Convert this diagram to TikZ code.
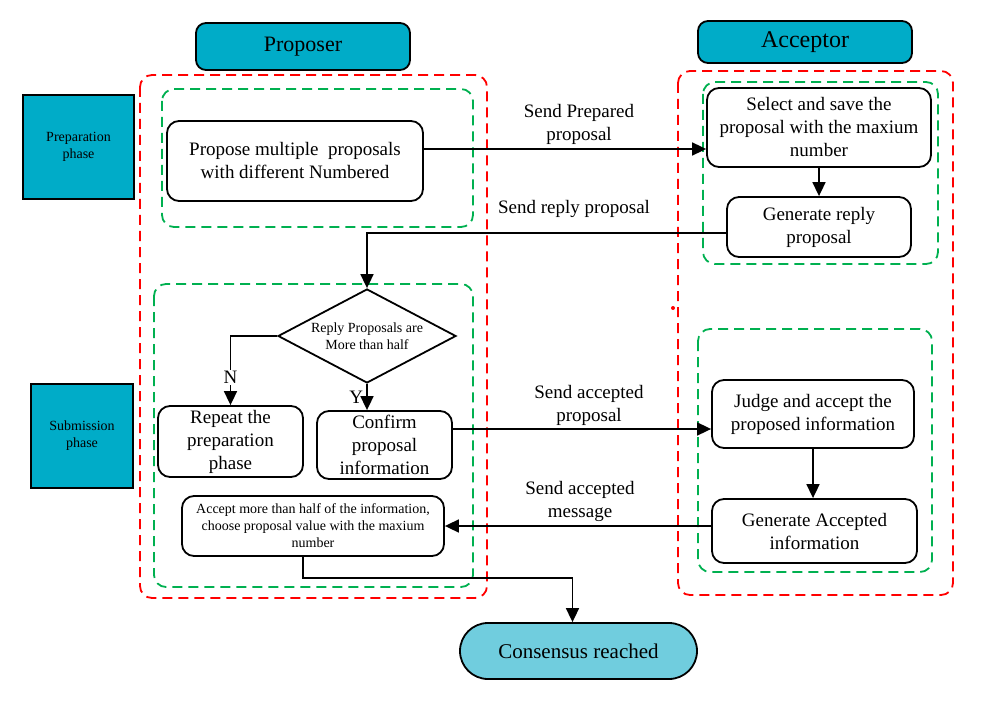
\documentclass[tikz,border=0pt]{standalone}
\usepackage{fontspec}
\setmainfont{Liberation Serif}
\usetikzlibrary{arrows.meta,shapes.geometric}

\definecolor{headcyan}{RGB}{0,172,200}
\definecolor{endcyan}{RGB}{112,205,222}
\definecolor{framered}{RGB}{255,0,0}
\definecolor{framegreen}{RGB}{0,176,80}

\newcommand{\fs}[2]{\fontsize{#1}{#2}\selectfont}

\tikzset{
  box/.style={draw, line width=1.8pt, rounded corners=12pt, align=center,
    inner sep=0pt, font=\fs{19}{23}},
  header/.style={box, fill=headcyan, rounded corners=10pt},
  phasebox/.style={draw, line width=1.8pt, fill=headcyan, align=center,
    inner sep=0pt, font=\fs{14}{17}},
  redframe/.style={draw=framered, line width=1.8pt, dash pattern=on 10pt off 6pt,
    rounded corners=12pt},
  greenframe/.style={draw=framegreen, line width=1.8pt, dash pattern=on 10pt off 6pt,
    rounded corners=12pt},
  conn/.style={line width=1.7pt, -{Triangle[length=14pt,width=13pt]}},
  lbl/.style={align=center, inner sep=1pt, font=\fs{19}{23}},
}

\begin{document}
\begin{tikzpicture}[x=1pt,y=-1pt]
  \useasboundingbox (0,0) rectangle (992,703);

  % dashed group frames
  \draw[redframe]   (140,75)  rectangle (487,598);
  \draw[greenframe] (162,89)  rectangle (473,227);
  \draw[greenframe] (154,284) rectangle (473,587);
  \draw[redframe]   (678,71)  rectangle (953,595);
  \draw[greenframe] (703,82)  rectangle (938,264);
  \draw[greenframe] (698,329) rectangle (932,572);
  \fill[framered] (673,308) circle (2);

  % role headers
  \node[header, minimum width=214, minimum height=47, font=\fs{22}{26}]
    (proposer) at (303,46.5) {Proposer};
  \node[header, minimum width=214, minimum height=42, font=\fs{24}{28}]
    (acceptor) at (805,42) {Acceptor};

  % phase markers
  \node[phasebox, minimum width=111, minimum height=104]
    (prep) at (78.5,147) {Preparation\\phase};
  \node[phasebox, minimum width=102, minimum height=104]
    (subm) at (82,436) {Submission\\phase};

  % proposer side
  \node[box, minimum width=256, minimum height=80]
    (propose) at (295,161) {Propose multiple\ \ proposals\\with different Numbered};
  \node[draw, diamond, line width=1.8pt, shape aspect=1.9, inner sep=0pt,
        minimum width=178, minimum height=94, align=center, font=\fs{14}{17}]
    (dec) at (367,336) {Reply Proposals are\\More than half};
  \node[box, minimum width=145, minimum height=71]
    (repeat) at (230.5,441.5) {Repeat the\\preparation\\phase};
  \node[box, minimum width=135, minimum height=68]
    (confirm) at (384.5,445) {Confirm\\proposal\\information};
  \node[box, minimum width=262, minimum height=60, font=\fs{14}{17}]
    (accept) at (313,526) {Accept more than half of the information,\\choose\ proposal value with the maxium\\number};

  % acceptor side
  \node[box, minimum width=224, minimum height=79]
    (select) at (819,127.5) {Select and save the\\proposal with the maxium\\number};
  \node[box, minimum width=184, minimum height=60]
    (genreply) at (819,227) {Generate reply\\proposal};
  \node[box, minimum width=202, minimum height=68]
    (judge) at (813,414) {Judge and accept the\\proposed information};
  \node[box, minimum width=205, minimum height=64]
    (genacc) at (814.5,531) {Generate Accepted\\information};

  % final state
  \node[draw, line width=1.8pt, fill=endcyan, rounded corners=28pt, inner sep=0pt,
        minimum width=237, minimum height=56, font=\fs{21}{25}]
    (consensus) at (578.5,651) {Consensus reached};

  % connectors
  \draw[conn] (propose.east |- 0,149) -- (select.west |- 0,149);
  \node[lbl] (lprep) at (579,124) {Send Prepared\\proposal};

  \draw[conn] (select.south) -- (genreply.north);

  \draw[conn] (genreply.west |- 0,233) -| (dec.north);
  \node[lbl] (lreply) at (574,209) {Send reply proposal};

  \draw[conn] (dec.west) -| node[pos=0.8, fill=white, inner sep=1pt, font=\fs{19}{23}] (nlbl) {N} (repeat.north);
  \draw[conn] (dec.south) -- node[left, inner sep=3pt, pos=0.5, font=\fs{19}{23}] (ylbl) {Y} (dec.south |- confirm.north);

  \draw[conn] (confirm.east |- 0,429) -- (judge.west |- 0,429);
  \node[lbl] (lacc) at (589,405) {Send accepted\\proposal};

  \draw[conn] (judge.south) -- (judge.south |- genacc.north);

  \draw[conn] (genacc.west |- accept.east) -- (accept.east);
  \node[lbl] (lmsg) at (580,501) {Send accepted\\message};

  \draw[conn] ([xshift=-10pt]accept.south) -- ++(0,21) -| ([xshift=-6pt]consensus.north);
\end{tikzpicture}
\end{document}
